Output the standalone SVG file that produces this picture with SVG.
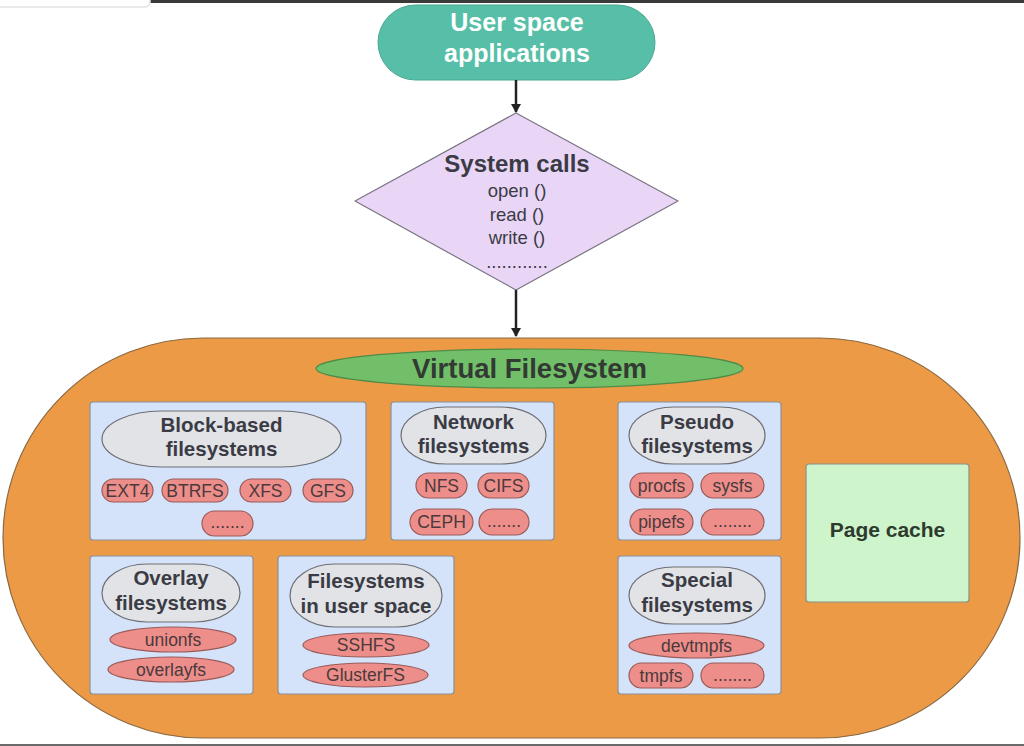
<svg xmlns="http://www.w3.org/2000/svg" width="1024" height="746" viewBox="0 0 1024 746">
<style>
text{font-family:"Liberation Sans",Arial,sans-serif;text-anchor:middle}
.box{fill:#d4e3f9;stroke:#8a8f99;stroke-width:1.2}
.hd{fill:#e2e3e6;stroke:#6e6e74;stroke-width:1.2}
.pill{fill:#ee8e8a;stroke:#9a5a58;stroke-width:1.2}
.ht{font-weight:bold;font-size:20.5px;fill:#3a3b45}
.pt{font-size:17.5px;fill:#4a3a3c}
.conn{stroke:#222;stroke-width:2.5;fill:none}
</style>
<defs>
<marker id="ah" markerWidth="10" markerHeight="10" refX="8" refY="5" orient="auto" markerUnits="userSpaceOnUse">
<path d="M0,0 L9,5 L0,10 Z" fill="#222"/>
</marker>
</defs>
<rect x="0" y="0" width="1024" height="746" fill="#ffffff"/>
<rect x="0" y="0" width="1024" height="3" fill="#3a3a3a"/>
<rect x="-5" y="-5" width="155" height="12" rx="5" fill="#ffffff" stroke="#e2e2e2" stroke-width="1.5"/>
<rect x="0" y="744" width="1024" height="2" fill="#6a6a6a"/>

<g id="user-space">
<rect x="378" y="5" width="277" height="75" rx="37.5" fill="#57bfa7" stroke="#4aa892" stroke-width="1"/>
<text x="517" y="31" font-weight="bold" font-size="25" fill="#ffffff">User space</text>
<text x="517" y="62" font-weight="bold" font-size="25" fill="#ffffff">applications</text>
</g>

<g id="system-calls">
<polygon points="516,113 678,201 516,290 355,201" fill="#e9d6f6" stroke="#7a7480" stroke-width="1.2" stroke-linejoin="round"/>
<text x="517" y="172" font-weight="bold" font-size="24" fill="#3a3b45">System calls</text>
<text x="517" y="197" font-size="18.5" fill="#3a3b45">open ()</text>
<text x="517" y="221" font-size="18.5" fill="#3a3b45">read ()</text>
<text x="517" y="244" font-size="18.5" fill="#3a3b45">write ()</text>
<text x="517" y="268" font-size="18.5" fill="#3a3b45">............</text>
</g>

<g id="vfs">
<rect x="3" y="338" width="1017" height="400" rx="200" ry="200" fill="#ed9a46" stroke="#8a6a45" stroke-width="1.2"/>
</g>

<g id="vfs-title">
<ellipse cx="529.5" cy="368.5" rx="213.5" ry="19.5" fill="#72bf6a" stroke="#4f8c47" stroke-width="1.2"/>
<text x="529.5" y="377.5" font-weight="bold" font-size="27.5" fill="#333a33">Virtual Filesystem</text>
</g>

<g id="block-based">
<rect class="box" x="90" y="402" width="276" height="138" rx="3"/>
<rect class="hd" x="102" y="411" width="239" height="56" rx="60" ry="28"/>
<text class="ht" x="221.5" y="432">Block-based</text>
<text class="ht" x="221.5" y="456">filesystems</text>
<rect class="pill" x="102" y="479" width="51" height="23" rx="11.5"/>
<text class="pt" x="127.5" y="497">EXT4</text>
<rect class="pill" x="162" y="479" width="66" height="23" rx="11.5"/>
<text class="pt" x="195" y="497">BTRFS</text>
<rect class="pill" x="240" y="479" width="51" height="23" rx="11.5"/>
<text class="pt" x="265.5" y="497">XFS</text>
<rect class="pill" x="303" y="479" width="50" height="23" rx="11.5"/>
<text class="pt" x="328" y="497">GFS</text>
<rect class="pill" x="202" y="511" width="51" height="25" rx="12.5"/>
<text class="pt" x="227.5" y="528">.......</text>
</g>

<g id="network">
<rect class="box" x="391" y="402" width="163" height="138" rx="3"/>
<rect class="hd" x="401" y="407" width="145" height="57" rx="45" ry="28.5"/>
<text class="ht" x="473.5" y="429">Network</text>
<text class="ht" x="473.5" y="453">filesystems</text>
<rect class="pill" x="416" y="473" width="51" height="25" rx="12.5"/>
<text class="pt" x="441.5" y="492">NFS</text>
<rect class="pill" x="478" y="473" width="51" height="25" rx="12.5"/>
<text class="pt" x="503.5" y="492">CIFS</text>
<rect class="pill" x="410" y="509" width="63" height="26" rx="13"/>
<text class="pt" x="441.5" y="528">CEPH</text>
<rect class="pill" x="479" y="509" width="50" height="26" rx="13"/>
<text class="pt" x="504" y="527">.......</text>
</g>

<g id="pseudo">
<rect class="box" x="618" y="402" width="163" height="138" rx="3"/>
<rect class="hd" x="629" y="407" width="136" height="57" rx="45" ry="28.5"/>
<text class="ht" x="697" y="429">Pseudo</text>
<text class="ht" x="697" y="453">filesystems</text>
<rect class="pill" x="630" y="473" width="63" height="25" rx="12.5"/>
<text class="pt" x="661.5" y="492">procfs</text>
<rect class="pill" x="701" y="473" width="63" height="25" rx="12.5"/>
<text class="pt" x="732.5" y="492">sysfs</text>
<rect class="pill" x="630" y="509" width="63" height="26" rx="13"/>
<text class="pt" x="661.5" y="528">pipefs</text>
<rect class="pill" x="701" y="509" width="63" height="26" rx="13"/>
<text class="pt" x="732.5" y="527">........</text>
</g>

<g id="page-cache">
<rect x="806" y="464" width="163" height="138" rx="3" fill="#cdf4cb" stroke="#8a8f88" stroke-width="1.2"/>
<text x="887.5" y="537" font-weight="bold" font-size="21" fill="#2d3a2d">Page cache</text>
</g>

<g id="overlay">
<rect class="box" x="90" y="556" width="163" height="138" rx="3"/>
<rect class="hd" x="102" y="564" width="138" height="58" rx="45" ry="29"/>
<text class="ht" x="171" y="585">Overlay</text>
<text class="ht" x="171" y="610">filesystems</text>
<rect class="pill" x="110" y="627" width="126" height="25" rx="63" ry="12.5"/>
<text class="pt" x="173" y="646">unionfs</text>
<rect class="pill" x="108" y="657" width="126" height="25" rx="63" ry="12.5"/>
<text class="pt" x="171" y="676">overlayfs</text>
</g>

<g id="fuse">
<rect class="box" x="278" y="556" width="176" height="138" rx="3"/>
<rect class="hd" x="290" y="564" width="152" height="63" rx="45" ry="31.5"/>
<text class="ht" x="366" y="588">Filesystems</text>
<text class="ht" x="366" y="613">in user space</text>
<rect class="pill" x="303" y="633" width="126" height="24" rx="63" ry="12"/>
<text class="pt" x="366" y="651">SSHFS</text>
<rect class="pill" x="303" y="663" width="125" height="24" rx="62.5" ry="12"/>
<text class="pt" x="365.5" y="681">GlusterFS</text>
</g>

<g id="special">
<rect class="box" x="618" y="556" width="163" height="138" rx="3"/>
<rect class="hd" x="629" y="567" width="136" height="57" rx="45" ry="28.5"/>
<text class="ht" x="697" y="587">Special</text>
<text class="ht" x="697" y="612">filesystems</text>
<rect class="pill" x="629" y="633" width="135" height="25" rx="67.5" ry="12.5"/>
<text class="pt" x="696.5" y="652">devtmpfs</text>
<rect class="pill" x="629" y="663" width="64" height="25" rx="12.5"/>
<text class="pt" x="661" y="682">tmpfs</text>
<rect class="pill" x="701" y="663" width="63" height="25" rx="12.5"/>
<text class="pt" x="732.5" y="681">........</text>
</g>

<g id="connectors">
<line class="conn" x1="516" y1="80" x2="516" y2="112" marker-end="url(#ah)"/>
<line class="conn" x1="516" y1="290" x2="516" y2="336" marker-end="url(#ah)"/>
</g>
</svg>
